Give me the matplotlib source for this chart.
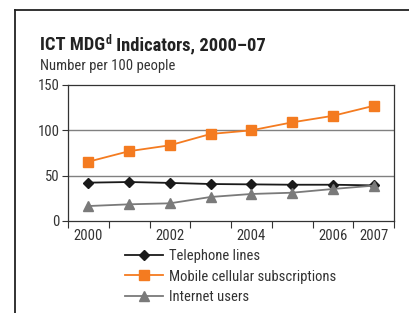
import matplotlib
matplotlib.use("Agg")
import matplotlib.pyplot as plt
from matplotlib.lines import Line2D

plt.rcParams['font.family'] = ['Roboto Condensed', 'DejaVu Sans']

years = ["2000", "2001", "2002", "2003", "2004", "2005", "2006", "2007"]
shown_labels = ["2000", "2002", "2004", "2006", "2007"]
telephone = [42.3, 43.0, 42.0, 40.8, 40.4, 40.0, 40.0, 39.3]
mobile = [65.4, 77.0, 83.5, 96.0, 100.0, 108.8, 116.0, 127.0]
internet = [16.5, 18.4, 19.5, 26.5, 29.8, 31.2, 35.3, 39.0]
series_names = ["Telephone lines", "Mobile cellular subscriptions", "Internet users"]
yticks = [0, 50, 100, 150]

W, H = 409, 313
fig = plt.figure(figsize=(W / 100, H / 100), dpi=100)

fig.add_artist(Line2D([15 / W, 1.0], [1 - 10 / H, 1 - 10 / H], color="#222222", lw=1.3, transform=fig.transFigure))
fig.add_artist(Line2D([15 / W, 15 / W], [0, 1 - 10 / H], color="#222222", lw=1.3, transform=fig.transFigure))

ax = fig.add_axes([68 / W, 1 - 221 / H, (394 - 68) / W, (221 - 85) / H])
x = list(range(len(years)))
ax.plot(x, telephone, color="#1a1a1a", lw=1.3, marker="D", markersize=5.5, label=series_names[0], zorder=3)
ax.plot(x, mobile, color="#f47b20", lw=1.3, marker="s", markersize=6.5, label=series_names[1], zorder=3)
ax.plot(x, internet, color="#7a7a7a", lw=1.3, marker="^", markersize=7, label=series_names[2], zorder=3)

ax.set_xlim(-0.5, len(years) - 0.5)
ax.set_ylim(0, 150)
ax.set_yticks(yticks)
ax.set_yticklabels([str(v) for v in yticks], fontsize=10.5, color="#333333")
ax.tick_params(axis="y", length=4, width=0.8, pad=2, color="#333333")
for v in yticks[1:-1]:
    ax.axhline(v, color="#808080", lw=1.0, zorder=1)

pos = [years.index(l) for l in shown_labels]
ax.set_xticks(pos)
ax.set_xticklabels(shown_labels, fontsize=10.5, color="#333333")
ax.tick_params(axis="x", which="major", length=0, pad=6)
ax.set_xticks([i - 0.5 for i in range(len(years) + 1)], minor=True)
ax.tick_params(axis="x", which="minor", length=5, width=0.8, color="#333333")

for s in ax.spines.values():
    s.set_color("#333333")
    s.set_linewidth(0.9)

leg = fig.legend(loc="upper left", bbox_to_anchor=(125 / W, 1 - 249 / H), frameon=False,
                 fontsize=10.5, handlelength=2.6, handletextpad=0.45, labelspacing=0.45,
                 borderpad=0, borderaxespad=0)
for t in leg.get_texts():
    t.set_color("#333333")

fig.canvas.draw()
r = fig.canvas.get_renderer()
t1 = fig.text(40 / W, 1 - 50 / H, "ICT MDG", fontsize=13.3, fontweight="bold", color="#222222", va="baseline")
bb = t1.get_window_extent(r)
t2 = fig.text(bb.x1 / W + 0.002, 1 - 43.5 / H, "d", fontsize=8.5, fontweight="bold", color="#222222", va="baseline")
bb2 = t2.get_window_extent(r)
fig.text(bb2.x1 / W, 1 - 50 / H, " Indicators, 2000–07", fontsize=13.3, fontweight="bold", color="#222222", va="baseline")
fig.text(40 / W, 1 - 69.5 / H, "Number per 100 people", fontsize=10.5, color="#333333", va="baseline")

fig.savefig("out.png", dpi=100)
